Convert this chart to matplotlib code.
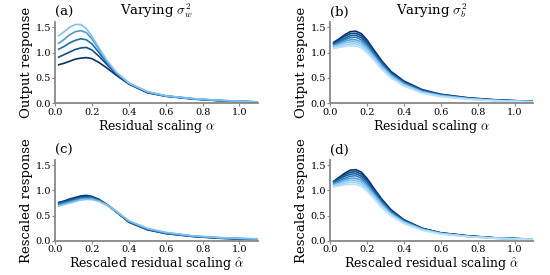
import numpy as np
import matplotlib
matplotlib.use("Agg")
import matplotlib.pyplot as plt
from matplotlib.colors import LinearSegmentedColormap

plt.rcParams['font.family'] = ['DejaVu Serif']
plt.rcParams['mathtext.fontset'] = 'cm'

# residual scaling grid (same for all panels)
alpha = [0.02, 0.05, 0.08, 0.11, 0.14, 0.17, 0.20, 0.24, 0.28, 0.33, 0.40, 0.50, 0.60, 0.75, 0.90, 1.10]

# (a) varying sigma_w^2, dark -> light
resp_w = [
    [0.76, 0.79, 0.83, 0.87, 0.89, 0.90, 0.88, 0.80, 0.70, 0.56, 0.38, 0.21, 0.14, 0.085, 0.050, 0.025],
    [0.91, 0.96, 1.01, 1.06, 1.09, 1.10, 1.05, 0.92, 0.77, 0.585, 0.39, 0.22, 0.145, 0.088, 0.053, 0.027],
    [1.065, 1.12, 1.19, 1.24, 1.27, 1.25, 1.17, 0.99, 0.80, 0.60, 0.39, 0.22, 0.145, 0.090, 0.055, 0.028],
    [1.18, 1.26, 1.35, 1.41, 1.43, 1.39, 1.27, 1.05, 0.83, 0.615, 0.40, 0.23, 0.15, 0.092, 0.057, 0.030],
    [1.33, 1.41, 1.50, 1.55, 1.55, 1.47, 1.32, 1.08, 0.85, 0.62, 0.40, 0.23, 0.15, 0.095, 0.060, 0.030],
]

# (b) varying sigma_b^2, dark -> light
resp_b = [
    [1.20, 1.27, 1.35, 1.41, 1.42, 1.37, 1.25, 1.04, 0.84, 0.63, 0.44, 0.27, 0.18, 0.110, 0.070, 0.040],
    [1.18, 1.25, 1.32, 1.37, 1.38, 1.33, 1.21, 1.01, 0.82, 0.61, 0.43, 0.26, 0.17, 0.105, 0.067, 0.038],
    [1.17, 1.22, 1.28, 1.33, 1.34, 1.29, 1.18, 0.98, 0.79, 0.59, 0.41, 0.25, 0.17, 0.100, 0.064, 0.037],
    [1.15, 1.20, 1.25, 1.29, 1.30, 1.25, 1.14, 0.95, 0.77, 0.57, 0.40, 0.24, 0.16, 0.095, 0.061, 0.035],
    [1.13, 1.17, 1.22, 1.25, 1.25, 1.21, 1.11, 0.93, 0.74, 0.56, 0.38, 0.23, 0.15, 0.090, 0.058, 0.034],
    [1.12, 1.15, 1.19, 1.21, 1.21, 1.17, 1.07, 0.90, 0.72, 0.54, 0.37, 0.22, 0.15, 0.090, 0.055, 0.033],
    [1.10, 1.12, 1.15, 1.17, 1.17, 1.13, 1.04, 0.87, 0.69, 0.52, 0.36, 0.21, 0.14, 0.085, 0.052, 0.031],
    [1.08, 1.10, 1.12, 1.13, 1.13, 1.09, 1.00, 0.84, 0.67, 0.50, 0.34, 0.20, 0.13, 0.080, 0.050, 0.030],
]

# (c) rescaled, varying sigma_w^2
resc_w = [
    [0.76, 0.79, 0.83, 0.86, 0.89, 0.90, 0.88, 0.82, 0.72, 0.58, 0.37, 0.22, 0.145, 0.085, 0.050, 0.025],
    [0.75, 0.78, 0.81, 0.84, 0.87, 0.88, 0.87, 0.81, 0.72, 0.58, 0.38, 0.23, 0.150, 0.090, 0.055, 0.030],
    [0.73, 0.76, 0.79, 0.82, 0.85, 0.86, 0.85, 0.80, 0.72, 0.585, 0.385, 0.235, 0.155, 0.092, 0.058, 0.032],
    [0.71, 0.74, 0.77, 0.80, 0.83, 0.84, 0.84, 0.79, 0.715, 0.59, 0.39, 0.24, 0.160, 0.095, 0.060, 0.035],
    [0.69, 0.72, 0.75, 0.78, 0.81, 0.82, 0.82, 0.78, 0.71, 0.59, 0.40, 0.25, 0.170, 0.100, 0.065, 0.040],
]

# (d) rescaled, varying sigma_b^2
resc_b = [
    [1.18, 1.26, 1.34, 1.40, 1.41, 1.36, 1.24, 1.03, 0.83, 0.62, 0.42, 0.25, 0.16, 0.100, 0.060, 0.035],
    [1.17, 1.24, 1.31, 1.36, 1.37, 1.32, 1.20, 1.00, 0.81, 0.60, 0.41, 0.245, 0.16, 0.097, 0.058, 0.034],
    [1.16, 1.22, 1.28, 1.32, 1.33, 1.28, 1.17, 0.97, 0.78, 0.58, 0.40, 0.24, 0.155, 0.094, 0.057, 0.033],
    [1.14, 1.19, 1.24, 1.28, 1.29, 1.24, 1.13, 0.94, 0.76, 0.57, 0.39, 0.235, 0.15, 0.091, 0.055, 0.032],
    [1.12, 1.16, 1.21, 1.24, 1.24, 1.20, 1.10, 0.92, 0.74, 0.55, 0.38, 0.23, 0.15, 0.088, 0.053, 0.031],
    [1.10, 1.14, 1.18, 1.20, 1.20, 1.16, 1.06, 0.89, 0.71, 0.53, 0.37, 0.22, 0.145, 0.086, 0.052, 0.030],
    [1.09, 1.11, 1.14, 1.16, 1.16, 1.12, 1.03, 0.86, 0.69, 0.52, 0.36, 0.215, 0.14, 0.084, 0.051, 0.029],
    [1.07, 1.09, 1.11, 1.12, 1.12, 1.08, 0.99, 0.83, 0.66, 0.50, 0.345, 0.21, 0.135, 0.082, 0.050, 0.028],
]

# navy -> sky blue -> pale cyan
blues = LinearSegmentedColormap.from_list('blues', ['#08306b', '#1a6fb0', '#7fc2f2', '#c4e6fb'])

fig = plt.figure(figsize=(5.5, 2.75), dpi=100)
boxes = [[0.10, 0.624, 0.369, 0.296], [0.60, 0.624, 0.369, 0.296],
         [0.10, 0.124, 0.369, 0.294], [0.60, 0.124, 0.369, 0.294]]
panels = [
    (resp_w, '(a)', r'Varying $\sigma_w^2$', 'Output response', r'Residual scaling $\alpha$', (0.0, 0.67)),
    (resp_b, '(b)', r'Varying $\sigma_b^2$', 'Output response', r'Residual scaling $\alpha$', (0.0, 0.95)),
    (resc_w, '(c)', '', 'Rescaled response', r'Rescaled residual scaling $\hat{\alpha}$', (0.0, 0.67)),
    (resc_b, '(d)', '', 'Rescaled response', r'Rescaled residual scaling $\hat{\alpha}$', (0.0, 0.95)),
]

for box, (curves, tag, title, ylab, xlab, crange) in zip(boxes, panels):
    ax = fig.add_axes(box)
    n = len(curves)
    cols = blues(np.linspace(crange[0], crange[1], n))
    for k, ys in enumerate(curves):
        ax.plot(alpha, ys, color=cols[k], lw=1.2)
    ax.set_xlim(0, 1.1)
    ax.set_ylim(0, 1.6)
    ax.set_xticks([0.0, 0.2, 0.4, 0.6, 0.8, 1.0])
    ax.set_yticks([0.0, 0.5, 1.0, 1.5])
    ax.spines['top'].set_visible(False)
    ax.spines['right'].set_visible(False)
    for s in ['left', 'bottom']:
        ax.spines[s].set_color('#888888')
        ax.spines[s].set_linewidth(1.3)
    ax.tick_params(labelsize=7, length=2, width=0.8, color='#888888', pad=1)
    ax.set_ylabel(ylab, fontsize=9.5, labelpad=2)
    ax.set_xlabel(xlab, fontsize=9, labelpad=1)
    ax.text(0.0, 1.12, tag, transform=ax.transAxes, fontsize=9.5, va='center', ha='left')
    if title:
        ax.set_title(title, fontsize=9.5, pad=5)

fig.savefig('out.png', dpi=100)
